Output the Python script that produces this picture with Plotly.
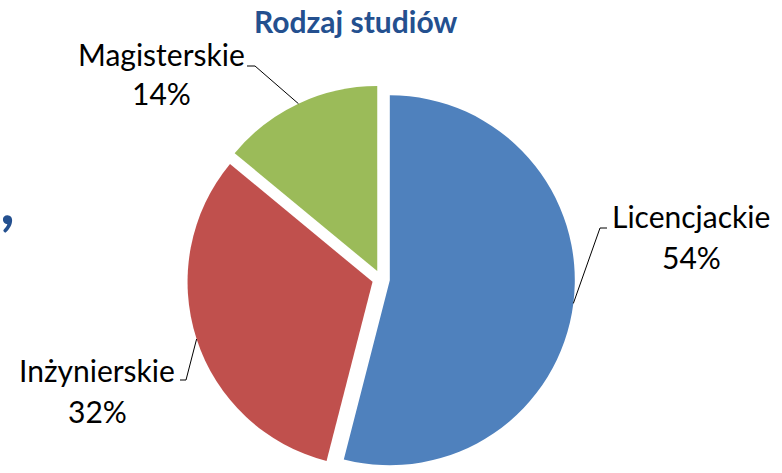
import math
import plotly.graph_objects as go

# ---- data ----
categories = ["Licencjackie", "Inżynierskie", "Magisterskie"]
values = [54, 32, 14]
colors = ["#4F81BD", "#C0504D", "#9BBB59"]
title_text = "Rodzaj studiów"

# ---- layout constants (pixels) ----
W, H = 782, 473
R = 185.0          # pie radius in px
PULL = 0.048       # pull fraction
half = R * (1 + PULL)
cx = 381.0
cy = H - half      # domain anchored at the bottom edge

FONT = "Lato, Carlito, Calibri, sans-serif"
TITLE_COLOR = "#24508F"
LBL_SIZE = 30

# per-label layout: elbow point, tick end, text centre x, name mid y, pct mid y
label_layout = {
    "Licencjackie": dict(elbow=(600, 228), tick=(607, 228), tx=691, ny=216, py=257),
    "Inżynierskie": dict(elbow=(186, 380), tick=(180, 380), tx=97, ny=370, py=411),
    "Magisterskie": dict(elbow=(255, 66), tick=(247, 66), tx=161, ny=54, py=93),
}


def px(x):
    return x / W


def py_(y):
    return 1 - y / H


fig = go.Figure(
    go.Pie(
        labels=categories,
        values=values,
        marker=dict(colors=colors, line=dict(width=0)),
        sort=False,
        direction="clockwise",
        rotation=0,
        pull=[PULL] * len(values),
        textinfo="none",
        hoverinfo="label+percent",
        domain=dict(x=[px(cx - half), px(cx + half)], y=[0, (2 * half) / H]),
        showlegend=False,
    )
)

annotations = []
shapes = []
total = sum(values)
start = 0.0
for cat, v in zip(categories, values):
    frac = v / total
    mid = (start + frac / 2) * 2 * math.pi
    start += frac
    sx = cx + R * PULL * math.sin(mid)
    sy = cy - R * PULL * math.cos(mid)
    ex = sx + R * math.sin(mid)
    ey = sy - R * math.cos(mid)
    L = label_layout[cat]
    (bx, by), (tx_, ty_) = L["elbow"], L["tick"]
    path = f"M {px(ex)},{py_(ey)} L {px(bx)},{py_(by)} L {px(tx_)},{py_(ty_)}"
    shapes.append(dict(type="path", path=path, xref="paper", yref="paper",
                       line=dict(color="black", width=1)))
    pct = round(100 * v / total)
    annotations.append(dict(text=cat, x=px(L["tx"]), y=py_(L["ny"]), xref="paper", yref="paper",
                            xanchor="center", yanchor="middle", showarrow=False,
                            font=dict(family=FONT, size=LBL_SIZE, color="black")))
    annotations.append(dict(text=f"{pct}%", x=px(L["tx"]), y=py_(L["py"]), xref="paper", yref="paper",
                            xanchor="center", yanchor="middle", showarrow=False,
                            font=dict(family=FONT, size=LBL_SIZE, color="black")))

# title
annotations.append(dict(text=f"<b>{title_text}</b>", x=px(355), y=py_(21), xref="paper", yref="paper",
                        xanchor="center", yanchor="middle", showarrow=False,
                        font=dict(family=FONT, size=30, color=TITLE_COLOR)))
# stray glyph on the left edge
annotations.append(dict(text="<b><i>,</i></b>", x=px(0), y=py_(200), xref="paper", yref="paper",
                        xanchor="left", yanchor="middle", showarrow=False,
                        font=dict(family=FONT, size=62, color=TITLE_COLOR)))

fig.update_layout(
    width=W, height=H,
    margin=dict(l=0, r=0, t=0, b=0),
    paper_bgcolor="white",
    plot_bgcolor="white",
    annotations=annotations,
    shapes=shapes,
)

fig.write_html(
    "out.html",
    config={"displayModeBar": False},
    post_script="document.body.style.margin='0';document.body.style.overflow='hidden';",
)
